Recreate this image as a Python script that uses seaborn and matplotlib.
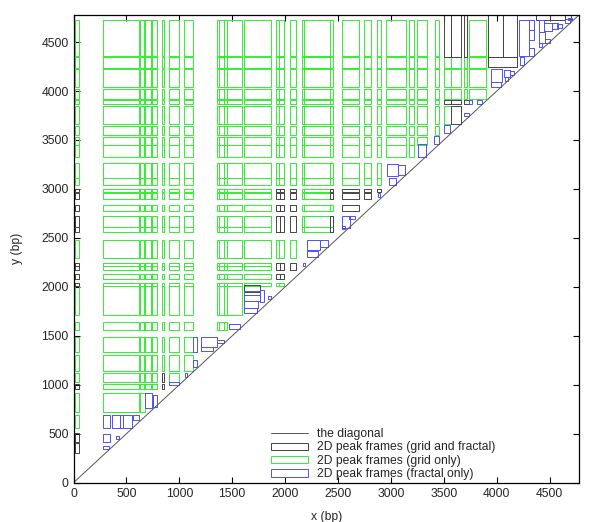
import matplotlib
matplotlib.use("Agg")
import matplotlib.pyplot as plt
import seaborn as sns
from matplotlib.patches import Rectangle, Patch
from matplotlib.collections import PatchCollection
from matplotlib.lines import Line2D

seq_len = 4780

# 1D peak intervals (bp) that make up the grid: columns on x, rows on y
grid_cols = [(10, 50), (277, 617), (633, 677), (665, 744), (731, 785), (835, 853),
             (907, 995), (1040, 1130), (1360, 1424), (1373, 1452), (1452, 1592),
             (1612, 1868), (1915, 1994), (1940, 1994), (2048, 2105), (2161, 2420),
             (2177, 2451), (2541, 2700), (2749, 2812), (2866, 2906), (2955, 3145),
             (3174, 3218), (3244, 3338), (3412, 3458), (3502, 3565), (3565, 3660),
             (3691, 3716), (3741, 3899), (3921, 4057), (4057, 4195)]
grid_rows = [(4360, 4726), (4240, 4345), (4045, 4228), (3916, 4025), (3868, 3905),
             (3664, 3850), (3552, 3644), (3449, 3535), (3330, 3449), (3040, 3270),
             (3109, 3270), (2972, 2997), (2895, 2956), (2778, 2837), (2564, 2724),
             (2615, 2724), (2292, 2479), (2173, 2241), (2214, 2241), (2078, 2132),
             (2009, 2037), (1713, 2009), (1560, 1640), (1338, 1491), (1140, 1304),
             (1032, 1117), (954, 1008), (725, 913), (556, 692)]

# frames found by both methods (x0, x1, y0, y1)
both_frames = [
    (10, 50, 2972, 2997), (10, 50, 2895, 2956), (10, 50, 2778, 2837), (10, 50, 2615, 2724),
    (10, 50, 2564, 2615), (10, 50, 2214, 2241), (10, 50, 2173, 2214), (10, 50, 2078, 2132),
    (10, 50, 2009, 2037), (10, 50, 954, 1008), (10, 50, 419, 507), (10, 50, 300, 409),
    (835, 853, 1032, 1117), (835, 853, 954, 1008),
    (1915, 1955, 2972, 2997), (1955, 1994, 2972, 2997), (1915, 1955, 2895, 2956),
    (1955, 1994, 2895, 2956), (1915, 1955, 2778, 2837), (1955, 1994, 2778, 2837),
    (1915, 1955, 2564, 2724), (1955, 1994, 2564, 2724), (1915, 1955, 2173, 2241),
    (1955, 1994, 2173, 2241), (1915, 1955, 2078, 2132), (1955, 1994, 2078, 2132),
    (2048, 2105, 2972, 2997), (2048, 2105, 2895, 2956), (2048, 2105, 2778, 2837),
    (2048, 2105, 2564, 2724), (2048, 2105, 2173, 2241),
    (2420, 2451, 2972, 2997), (2420, 2451, 2895, 2956), (2420, 2451, 2564, 2724),
    (2541, 2700, 2972, 2997), (2541, 2700, 2895, 2956), (2541, 2700, 2778, 2837),
    (2749, 2812, 2972, 2997), (2749, 2812, 2895, 2956), (2866, 2906, 2972, 2997),
    (1616, 1758, 1951, 2017),
    (3502, 3565, 4352, 4777), (3565, 3660, 4352, 4777), (3502, 3565, 3868, 3905),
    (3565, 3660, 3868, 3905), (3565, 3660, 3664, 3850), (3691, 3716, 4352, 4777),
    (3691, 3741, 3868, 3905), (3921, 4057, 4352, 4777), (4057, 4195, 4352, 4777),
    (3921, 4195, 4250, 4352), (4373, 4499, 4726, 4777), (4499, 4641, 4726, 4777),
    (4641, 4700, 4740, 4777),
]

# frames found by the fractal method only
fractal_frames = [
    (1468, 1569, 1570, 1621), (1134, 1166, 1338, 1491), (1207, 1355, 1383, 1491),
    (1207, 1320, 1348, 1383), (1355, 1427, 1424, 1458), (1134, 1166, 1185, 1253),
    (1049, 1075, 1083, 1124), (907, 995, 998, 1032), (672, 745, 760, 913),
    (750, 788, 776, 896), (277, 347, 556, 692), (366, 435, 556, 692),
    (435, 466, 556, 692), (466, 555, 556, 692), (567, 617, 640, 692),
    (277, 347, 419, 494), (397, 428, 450, 477), (277, 340, 341, 375),
    (2961, 3065, 3133, 3255), (3065, 3135, 3141, 3245), (2980, 3050, 3041, 3109),
    (2876, 2898, 2921, 2956), (2540, 2609, 2598, 2724), (2602, 2656, 2690, 2724),
    (2540, 2568, 2588, 2622), (2205, 2325, 2377, 2479), (2325, 2404, 2404, 2479),
    (2205, 2309, 2309, 2370), (2167, 2186, 2214, 2241),
    (1616, 1758, 1916, 1958), (1616, 1758, 1859, 1916), (1616, 1739, 1781, 1859),
    (1616, 1730, 1730, 1781), (1758, 1805, 1849, 1966), (1836, 1868, 1873, 1907),
    (3254, 3327, 3330, 3457), (3405, 3453, 3459, 3541), (3497, 3554, 3567, 3652),
    (3695, 3736, 3746, 3773), (3736, 3768, 3868, 3909), (3812, 3863, 3868, 3909),
    (3948, 4052, 4096, 4226), (3948, 4043, 4045, 4096), (4064, 4121, 4147, 4216),
    (4121, 4159, 4164, 4209), (4074, 4106, 4106, 4147), (4206, 4303, 4358, 4726),
    (4303, 4350, 4620, 4726), (4303, 4350, 4526, 4620), (4303, 4350, 4358, 4437),
    (4215, 4262, 4266, 4352), (4398, 4442, 4608, 4721), (4442, 4524, 4618, 4700),
    (4524, 4577, 4630, 4700), (4567, 4619, 4639, 4686), (4398, 4452, 4489, 4608),
    (4452, 4506, 4494, 4528), (4398, 4430, 4448, 4489), (4641, 4688, 4698, 4733),
    (4672, 4713, 4726, 4751),
]

legend_labels = ["the diagonal", "2D peak frames (grid and fractal)",
                 "2D peak frames (grid only)", "2D peak frames (fractal only)"]

green = "#33ee33"
blue = "#5050ff"
black = "#444444"
diag_color = "#555555"


def covered(cell, frames):
    # True when a black frame sits on (most of) this grid cell
    x0, x1, y0, y1 = cell
    area = (x1 - x0) * (y1 - y0)
    for fx0, fx1, fy0, fy1 in frames:
        w = min(x1, fx1) - max(x0, fx0)
        h = min(y1, fy1) - max(y0, fy0)
        if w > 0 and h > 0 and w * h > 0.5 * area:
            return True
    return False


grid_only = []
for cx0, cx1 in grid_cols:
    for ry0, ry1 in grid_rows:
        if cx1 < ry0 and not covered((cx0, cx1, ry0, ry1), both_frames):
            grid_only.append((cx0, cx1, ry0, ry1))


def frames_to_patches(frames):
    return [Rectangle((x0, y0), x1 - x0, y1 - y0) for x0, x1, y0, y1 in frames]


sns.set_style("ticks")
plt.rcParams["font.family"] = ["Liberation Sans", "DejaVu Sans"]

fig = plt.figure(figsize=(6, 5.22), dpi=100)
ax = fig.add_axes([0.1225, 0.0753, 0.843, 0.8966])

sns.lineplot(x=[0, seq_len], y=[0, seq_len], ax=ax, color=diag_color, lw=0.7)

for frames, col in [(grid_only, green), (both_frames, black), (fractal_frames, blue)]:
    pc = PatchCollection(frames_to_patches(frames), facecolor="none",
                         edgecolor=col, linewidth=0.7)
    ax.add_collection(pc)

ax.set_xlim(0, seq_len)
ax.set_ylim(0, seq_len)
ax.set_xticks(range(0, 4501, 500))
ax.set_yticks(range(0, 4501, 500))
ax.tick_params(direction="in", top=True, right=True, length=4, width=0.8,
               labelsize=8.7, color="black")
for s in ax.spines.values():
    s.set_linewidth(0.9)
    s.set_color("black")
ax.set_xlabel("x (bp)", fontsize=8.7, labelpad=8)
ax.set_ylabel("y (bp)", fontsize=8.7, labelpad=13)

handles = [Line2D([], [], color=diag_color, lw=0.7),
           Patch(facecolor="none", edgecolor=black, linewidth=0.7),
           Patch(facecolor="none", edgecolor=green, linewidth=0.7),
           Patch(facecolor="none", edgecolor=blue, linewidth=0.7)]
leg = ax.legend(handles, legend_labels, loc="lower left", bbox_to_anchor=(0.39, 0.005),
                frameon=False, fontsize=8.7, handlelength=3.1, handleheight=0.55,
                handletextpad=0.7, labelspacing=0.12, borderpad=0, borderaxespad=0)
for h, col in zip(leg.legend_handles[1:], [black, green, blue]):
    h.set_edgecolor(col)
    h.set_facecolor("none")

fig.savefig("out.png", dpi=100)
